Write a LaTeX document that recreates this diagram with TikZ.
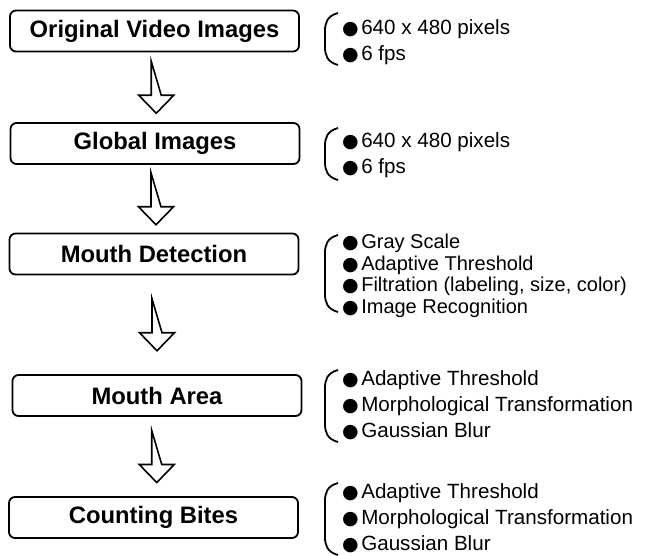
\documentclass[tikz,border=0pt]{standalone}
\usepackage{fontspec}
\setmainfont{Liberation Sans}
\newfontfamily\symfont{DejaVu Sans}
\usetikzlibrary{calc}

\tikzset{
  stage/.style={draw, line width=1.8pt, rounded corners=6pt, fill=white,
    minimum width=289pt, minimum height=41pt, inner sep=0pt,
    font=\fontsize{23.8}{28}\selectfont\bfseries},
  items/.style={anchor=west, align=left, inner sep=0pt,
    font=\fontsize{20.6}{26}\selectfont},
}

\newcommand{\bul}{{\symfont\fontsize{19}{19}\selectfont ●}\hspace{2.5pt}}
% hollow down arrow between two stages
\newcommand{\flowarrow}[2]{%
  \coordinate (m) at ($(#1.south)!0.5!(#2.north)+(1.5,0)$);
  \draw[line width=1.6pt] ($(m)+(-5,-26)$) -- ++(0,34) -- ++(-12.5,0)
    -- ++(17.5,18) -- ++(17.5,-18) -- ++(-12.5,0) -- cycle;
}
% left bracket in front of a list (top, bottom)
\newcommand{\listbrace}[2]{%
  \draw[line width=1.8pt] (338,#1) .. controls (327,#1+3) and (325,#1+10) .. (325,#1+18)
    -- (325,#2-18) .. controls (325,#2-10) and (327,#2-3) .. (338,#2);
}

\begin{document}
\begin{tikzpicture}[x=1pt, y=-1pt]
  \useasboundingbox (0,0) rectangle (652,555);

  % Stages
  \node[stage] (orig) at (154.5,31) {Original Video Images};
  \node[stage] (glob) at (155,143.5) {Global Images};
  \node[stage] (detect) at (154,254) {Mouth Detection};
  \node[stage] (area) at (157,395.5) {Mouth Area};
  \node[stage] (bites) at (153.5,517.5) {Counting Bites};

  \flowarrow{orig}{glob}
  \flowarrow{glob}{detect}
  \flowarrow{detect}{area}
  \flowarrow{area}{bites}

  % Details of each stage
  \node[items] (origlist) at (342,42) {\bul 640 x 480 pixels\\\bul 6 fps};
  \listbrace{13}{65}
  \node[items] (globlist) at (342,155.5) {\bul 640 x 480 pixels\\\bul 6 fps};
  \listbrace{128}{180}
  \node[items, font=\fontsize{20}{21.5}\selectfont] (detectlist) at (342,276)
    {\bul Gray Scale\\\bul Adaptive Threshold\\\bul Filtration (labeling, size, color)\\\bul Image Recognition};
  \listbrace{235}{312}
  \node[items] (arealist) at (342,405.5)
    {\bul Adaptive Threshold\\\bul Morphological Transformation\\\bul Gaussian Blur};
  \listbrace{370}{442}
  \node[items] (biteslist) at (342,518.5)
    {\bul Adaptive Threshold\\\bul Morphological Transformation\\\bul Gaussian Blur};
  \listbrace{483}{555}
\end{tikzpicture}
\end{document}
